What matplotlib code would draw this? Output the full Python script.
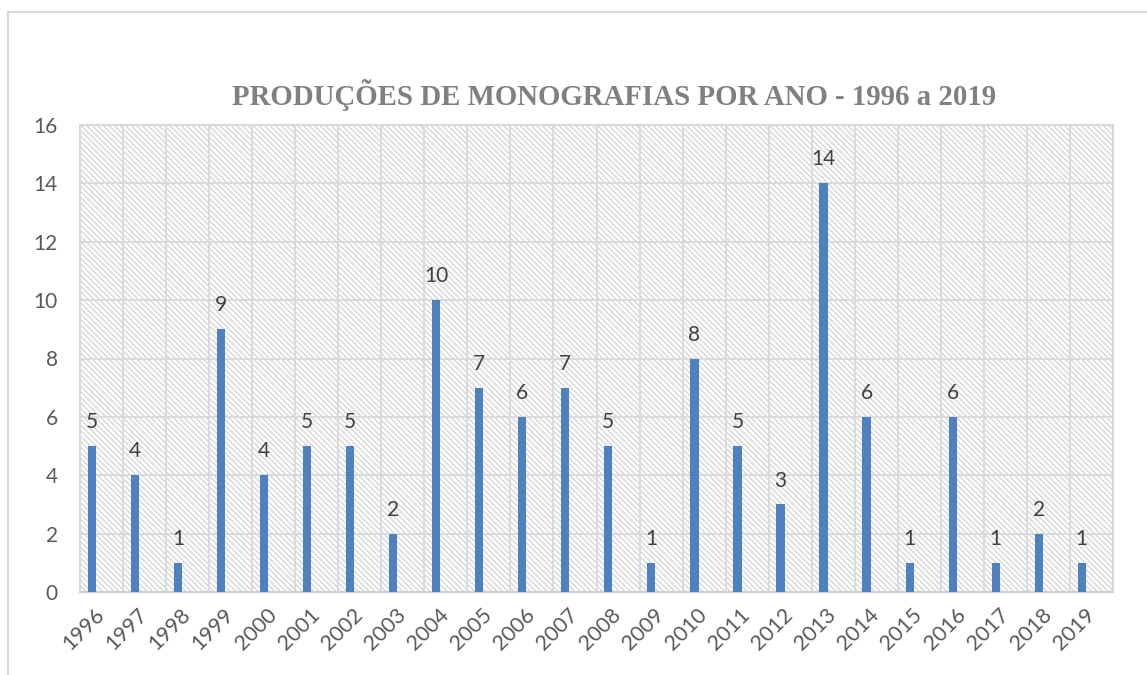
import matplotlib.pyplot as plt
import matplotlib.patches as mpatches
from matplotlib.lines import Line2D
import numpy as np

years = ['1996', '1997', '1998', '1999', '2000', '2001', '2002', '2003',
         '2004', '2005', '2006', '2007', '2008', '2009', '2010', '2011',
         '2012', '2013', '2014', '2015', '2016', '2017', '2018', '2019']
counts = [5, 4, 1, 9, 4, 5, 5, 2, 10, 7, 6, 7, 5, 1, 8, 5, 3, 14, 6, 1, 6, 1, 2, 1]
y_ticks = [0, 2, 4, 6, 8, 10, 12, 14, 16]

title = 'PRODUÇÕES DE MONOGRAFIAS POR ANO - 1996 a 2019'

plt.rcParams['font.family'] = ['Lato', 'DejaVu Sans']
plt.rcParams['hatch.linewidth'] = 1.1

fig = plt.figure(figsize=(11.47, 6.75), dpi=100)
ax = fig.add_axes([80 / 1147, 1 - 592 / 675, 1033 / 1147, 467 / 675])

grid_col = '#d9d9d9'

# hatched plot background
bg = mpatches.Rectangle((0, 0), 1, 1, transform=ax.transAxes, facecolor='white',
                        edgecolor='#d9d9d9', hatch='\\\\\\\\\\\\', linewidth=0, zorder=0)
ax.add_patch(bg)

x = np.arange(len(years))
bars = ax.bar(x - 0.225, counts, width=0.19, color='#4f81bd', zorder=3)

for xi, v in zip(x, counts):
    ax.annotate(str(v), (xi - 0.225, v), xytext=(0, 10), textcoords='offset points',
                ha='center', va='bottom', fontsize=15, color='#404040', zorder=4)

ax.set_xlim(-0.5, len(years) - 0.5)
ax.set_ylim(0, 16)
ax.set_yticks(y_ticks)
ax.set_xticks(x)
ax.set_xticklabels(years, rotation=45, ha='right', va='center', rotation_mode='anchor')
ax.set_xticks(np.arange(len(years) + 1) - 0.5, minor=True)

ax.grid(axis='y', which='major', color=grid_col, linewidth=1.3, zorder=1)
ax.grid(axis='x', which='minor', color=grid_col, linewidth=1.3, zorder=1)
ax.set_axisbelow(True)

ax.tick_params(axis='both', which='both', length=0)
ax.tick_params(axis='y', labelsize=15, labelcolor='#595959', pad=16)
ax.tick_params(axis='x', labelsize=15.5, labelcolor='#595959', pad=14)

for s in ax.spines.values():
    s.set_color(grid_col)
    s.set_linewidth(1.5)
ax.spines['bottom'].set_color('#d0d0d0')

fig.text(614 / 1147, 1 - 95 / 675, title, ha='center', va='center', fontsize=20.8,
         fontweight='bold', color='#808080', family='Liberation Serif')

# chart area border (cropped at right and bottom)
fig.add_artist(Line2D([8 / 1147, 1.0], [1 - 12 / 675, 1 - 12 / 675], color=grid_col, linewidth=1.5))
fig.add_artist(Line2D([8 / 1147, 8 / 1147], [0.0, 1 - 12 / 675], color=grid_col, linewidth=1.5))

fig.savefig('out.png', dpi=100)
